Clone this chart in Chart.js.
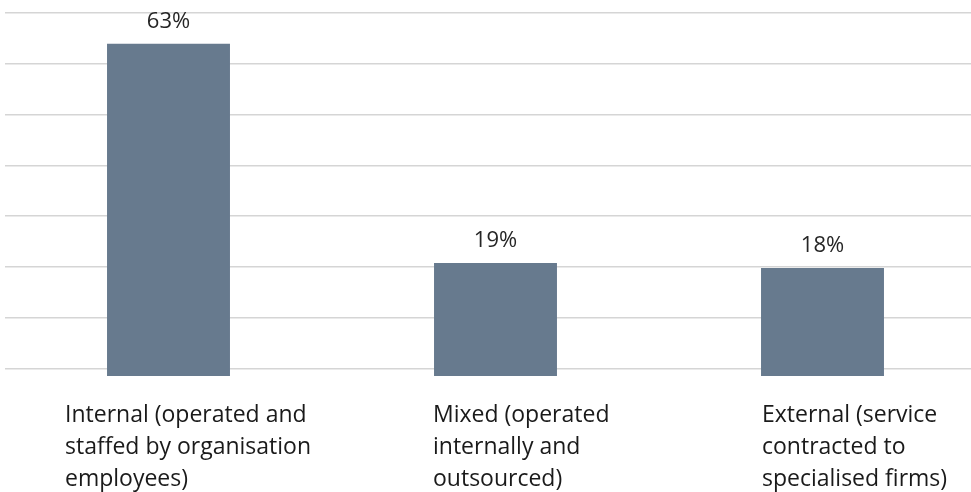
<!DOCTYPE html>
<html>
<head>
<meta charset="utf-8">
<script src="https://cdn.jsdelivr.net/npm/chart.js@4/dist/chart.umd.min.js"></script>
<style>
  html, body { margin: 0; padding: 0; background: #ffffff; overflow: hidden; width: 971px; height: 492px; }
  #wrap { position: relative; width: 971px; height: 492px; overflow: hidden; }
  #c { display: block; }
</style>
</head>
<body>
<div id="wrap"><canvas id="c" width="990" height="492"></canvas></div>
<script>
// ---- data ----
const categories = [
  ["Internal (operated and", "staffed by organisation", "employees)"],
  ["Mixed (operated", "internally and", "outsourced)"],
  ["External (service", "contracted to", "specialised firms)"]
];
const shares = [63, 19, 18];
const gridSteps = [0, 1, 2, 3, 4, 5, 6, 7];

// ---- style ----
const BAR_COLOR = '#677a8e';
const GRID_COLOR = '#d5d5d5';
const LABEL_SHIFT = [-103.5, -62.5, -60.5];
const AXIS_MIN = -3.7;
const AXIS_MAX = 69.2;

const valueLabels = {
  id: 'valueLabels',
  afterDatasetsDraw(chart) {
    const ctx = chart.ctx;
    const meta = chart.getDatasetMeta(0);
    ctx.save();
    ctx.font = '22px "Open Sans"';
    ctx.fillStyle = '#262626';
    ctx.textAlign = 'center';
    ctx.textBaseline = 'middle';
    meta.data.forEach((bar, i) => {
      ctx.fillText(chart.data.datasets[0].data[i] + '%', bar.x, bar.y - 22);
    });
    ctx.restore();
  }
};

const shiftTickLabels = {
  id: 'shiftTickLabels',
  beforeDraw(chart) {
    const scale = chart.scales.x;
    const items = scale.getLabelItems();
    if (items._shifted) return;
    items.forEach((it, i) => { it.options.translation[0] += LABEL_SHIFT[i] || 0; });
    items._shifted = true;
  }
};

new Chart(document.getElementById('c'), {
  type: 'bar',
  data: {
    labels: categories,
    datasets: [{
      data: shares,
      base: AXIS_MIN,
      backgroundColor: BAR_COLOR,
      borderWidth: 0,
      barPercentage: 0.376,
      categoryPercentage: 1.0,
      yAxisID: 'y'
    }]
  },
  options: {
    responsive: false,
    devicePixelRatio: 1,
    animation: false,
    layout: { padding: { left: 5, right: 4, top: 13, bottom: 0 } },
    plugins: { legend: { display: false }, tooltip: { enabled: false } },
    scales: {
      x: {
        grid: { display: false, drawTicks: false },
        border: { display: false },
        afterFit(axis) {
          axis.height = 116;
          axis.paddingLeft = 0;
          axis.paddingRight = 0;
        },
        ticks: {
          align: 'start',
          padding: 23,
          color: '#1a1a1a',
          maxRotation: 0,
          autoSkip: false,
          font: { family: '"Open Sans"', size: 23, lineHeight: 1.4 }
        }
      },
      y: {
        display: false,
        min: AXIS_MIN,
        max: AXIS_MAX
      },
      g: {
        position: 'left',
        min: -0.15,
        max: gridSteps[gridSteps.length - 1],
        afterBuildTicks(axis) { axis.ticks = gridSteps.map(v => ({ value: v })); },
        grid: { color: GRID_COLOR, lineWidth: 1.5, drawTicks: false },
        border: { display: false },
        ticks: { display: false }
      }
    }
  },
  plugins: [valueLabels, shiftTickLabels]
});
</script>
</body>
</html>
